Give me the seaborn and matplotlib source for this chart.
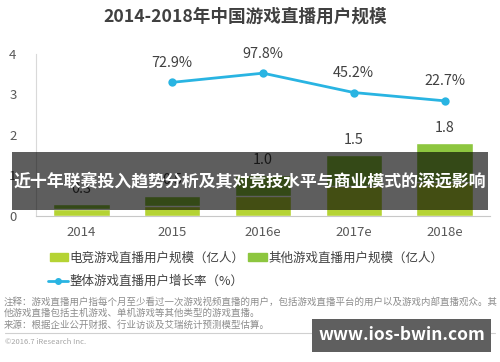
import matplotlib
matplotlib.use("Agg")
import matplotlib.pyplot as plt
import seaborn as sns
import pandas as pd
from matplotlib.patches import Rectangle, Patch
from matplotlib.lines import Line2D

# dados
anos = ["2014", "2015", "2016e", "2017e", "2018e"]
total = [0.3, 0.5, 1.0, 1.5, 1.8]          # total (rótulos acima das barras)
esports = [0.17, 0.25, 0.5, 0.75, 0.85]    # parte inferior (estimada, escondida pela faixa)
anos_taxa = ["2015", "2016e", "2017e", "2018e"]
taxa = [72.9, 97.8, 45.2, 22.7]

rotulo_esports = "电竞游戏直播用户规模（亿人）"
rotulo_outros = "其他游戏直播用户规模（亿人）"
rotulo_taxa = "整体游戏直播用户增长率（%）"
titulo = "2014-2018年中国游戏直播用户规模"
faixa = "近十年联赛投入趋势分析及其对竞技水平与商业模式的深远影响"
notas = ["注释：游戏直播用户指每个月至少看过一次游戏视频直播的用户，包括游戏直播平台的用户以及游戏内部直播观众。其",
         "他游戏直播包括主机游戏、单机游戏等其他类型的游戏直播。",
         "来源：根据企业公开财报、行业访谈及艾瑞统计预测模型估算。"]

cor_esports = "#b5d334"
cor_outros = "#8dc63f"
cor_linha = "#29b4e2"
cinza = "#404040"

sns.set_style("white")
plt.rcParams['font.family'] = ['Noto Sans CJK SC', 'DejaVu Sans']

df = pd.DataFrame({"ano": anos, "total": total, "esports": esports})

fig = plt.figure(figsize=(5, 3.62), dpi=100)
ax = fig.add_axes([0.072, 0.4033, 0.908, 0.4477])

sns.barplot(data=df, x="ano", y="total", color=cor_outros, width=0.62,
            saturation=1, ax=ax)
sns.barplot(data=df, x="ano", y="esports", color=cor_esports, width=0.62,
            saturation=1, ax=ax)
ax.bar_label(ax.containers[0], labels=[f"{v:.1f}" for v in total],
             padding=6, fontsize=10.4, color=cinza)

ax.set_ylim(0, 4)
ax.set_xlim(-0.5, 4.5)
ax.set_yticks([0, 1, 2, 3, 4])
ax.set_xlabel("")
ax.set_ylabel("")
ax.tick_params(axis="y", length=0, pad=14, labelsize=9.5, labelcolor="#595959")
ax.tick_params(axis="x", length=0, pad=7, labelsize=9.5, labelcolor="#595959")
for s in ["top", "right"]:
    ax.spines[s].set_visible(False)
ax.spines["left"].set_color("#d9d9d9")
ax.spines["bottom"].set_color("#c8c8c8")

# taxa de crescimento no eixo secundário
ax2 = ax.twinx()
pos = [anos.index(a) for a in anos_taxa]
sns.lineplot(x=pos, y=taxa, color=cor_linha, marker="o", markersize=6,
             markeredgewidth=0, linewidth=2, ax=ax2)
for x, v in zip(pos, taxa):
    ax2.annotate(f"{v}%", (x, v), xytext=(0, 14), textcoords="offset points",
                 ha="center", va="center", fontsize=10.4, color=cinza)
ax2.set_ylim(-290, 150)
ax2.set_yticks([])
for s in ax2.spines.values():
    s.set_visible(False)

fig.text(0.49, 0.953, titulo, ha="center", va="center", fontsize=12.7,
         fontweight="bold", color=cinza)

h1 = [Patch(color=cor_esports, label=rotulo_esports),
      Patch(color=cor_outros, label=rotulo_outros)]
fig.legend(handles=h1, loc="center left", bbox_to_anchor=(0.1, 0.287),
           ncol=2, frameon=False, fontsize=9.0, handlelength=1.45,
           handleheight=0.55, handletextpad=0.12, columnspacing=0.3,
           borderpad=0, borderaxespad=0, labelcolor="#404040")
h2 = [Line2D([], [], color=cor_linha, marker="o", markersize=4, linewidth=2,
             label=rotulo_taxa)]
fig.legend(handles=h2, loc="center left", bbox_to_anchor=(0.096, 0.222),
           frameon=False, fontsize=9.0, handlelength=1.6, handletextpad=0.12,
           borderpad=0, borderaxespad=0, labelcolor="#404040")

for i, linha in enumerate(notas):
    fig.text(0.008, 0.166 - i * 0.032, linha, ha="left", va="center",
             fontsize=6.8, color="#8c8c8c")
fig.add_artist(Line2D([0.01, 0.99], [0.08, 0.08], color="#d0d0d0", lw=0.8))
fig.text(0.01, 0.055, "©2016.7 iResearch Inc.", ha="left", va="center",
         fontsize=5.5, color="#a6a6a6")
fig.text(0.985, 0.053, "www.iresearch.com.cn", ha="right", va="center",
         fontsize=5.5, color="#a6a6a6")

# faixa escura sobreposta
fig.add_artist(Rectangle((0.024, 0.42), 0.952, 0.16, transform=fig.transFigure,
                         facecolor="black", alpha=0.63, edgecolor="none", zorder=5))
fig.text(0.5, 0.5, faixa, ha="center", va="center", fontsize=12.2,
         fontweight="bold", color="white", zorder=6)

# marca d'água
fig.add_artist(Rectangle((0.624, 0.028), 0.358, 0.091, transform=fig.transFigure,
                         facecolor="#5f5f5f", edgecolor="none", zorder=5))
fig.text(0.803, 0.0735, "www.ios-bwin.com", ha="center", va="center",
         fontsize=12.5, fontweight="bold", color="white", zorder=6)

fig.savefig("out.png", dpi=100)
